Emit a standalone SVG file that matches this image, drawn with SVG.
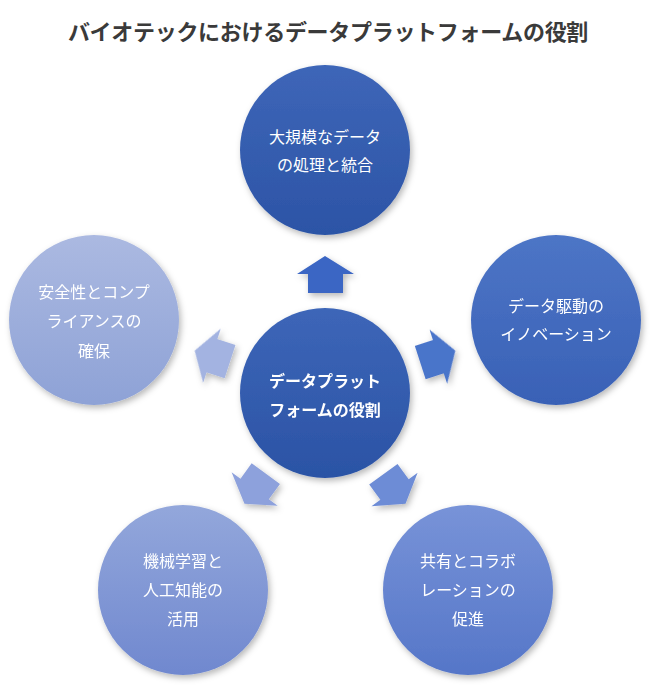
<svg xmlns="http://www.w3.org/2000/svg" width="652" height="690" viewBox="0 0 652 690">
<defs>
<style>
.title{font-family:"Noto Sans CJK JP","Noto Sans",sans-serif;font-weight:bold;font-size:22px;letter-spacing:-0.3px;fill:#3a3a3a;text-anchor:middle}
.lbl{font-family:"Noto Sans CJK JP","Noto Sans",sans-serif;font-size:16px;fill:#ffffff;text-anchor:middle}
.clbl{font-family:"Noto Sans CJK JP","Noto Sans",sans-serif;font-weight:bold;font-size:16px;fill:#ffffff;text-anchor:middle}
</style>
<filter id="sh" x="-20%" y="-20%" width="140%" height="140%">
<feDropShadow dx="2" dy="3" stdDeviation="3" flood-color="#000" flood-opacity="0.28"/>
</filter>
<linearGradient id="gC" x1="0" y1="0" x2="0" y2="1"><stop offset="0" stop-color="#3D66B8"/><stop offset="1" stop-color="#2B53A5"/></linearGradient>
<linearGradient id="gT" x1="0" y1="0" x2="0" y2="1"><stop offset="0" stop-color="#3E66B8"/><stop offset="1" stop-color="#2C54A6"/></linearGradient>
<linearGradient id="gR" x1="0" y1="0" x2="0" y2="1"><stop offset="0" stop-color="#4D75C6"/><stop offset="1" stop-color="#3961B6"/></linearGradient>
<linearGradient id="gBR" x1="0" y1="0" x2="0" y2="1"><stop offset="0" stop-color="#7893D8"/><stop offset="1" stop-color="#5576C8"/></linearGradient>
<linearGradient id="gBL" x1="0" y1="0" x2="0" y2="1"><stop offset="0" stop-color="#93A7DB"/><stop offset="1" stop-color="#7088CF"/></linearGradient>
<linearGradient id="gL" x1="0" y1="0" x2="0" y2="1"><stop offset="0" stop-color="#ABB9E1"/><stop offset="1" stop-color="#8EA2D6"/></linearGradient>
<path id="arr" d="M325,256 L354,274 L343,274 L343,293 L308,293 L308,274 L297,274 Z"/>
</defs>
<rect width="652" height="690" fill="#ffffff"/>
<text class="title" x="328" y="40">バイオテックにおけるデータプラットフォームの役割</text>
<g id="connectors" filter="url(#sh)">
<use href="#arr" fill="#3B66C4"/>
<use href="#arr" fill="#4A74CA" transform="rotate(72 325 393)"/>
<use href="#arr" fill="#6D8CD6" transform="rotate(144 325 393)"/>
<use href="#arr" fill="#8DA1DC" transform="rotate(216 325 393)"/>
<use href="#arr" fill="#A3B3E1" transform="rotate(288 325 393)"/>
</g>
<g id="center">
<circle cx="325" cy="393" r="85" fill="url(#gC)" filter="url(#sh)"/>
<text class="clbl" x="325" y="387">データプラット</text>
<text class="clbl" x="325" y="416">フォームの役割</text>
</g>
<g id="node-top">
<circle cx="325" cy="150" r="85" fill="url(#gT)" filter="url(#sh)"/>
<text class="lbl" x="325" y="143">大規模なデータ</text>
<text class="lbl" x="325" y="171">の処理と統合</text>
</g>
<g id="node-right">
<circle cx="556" cy="320" r="85" fill="url(#gR)" filter="url(#sh)"/>
<text class="lbl" x="556" y="312">データ駆動の</text>
<text class="lbl" x="556" y="340">イノベーション</text>
</g>
<g id="node-bottom-right">
<circle cx="468" cy="590" r="85" fill="url(#gBR)" filter="url(#sh)"/>
<text class="lbl" x="468" y="567">共有とコラボ</text>
<text class="lbl" x="468" y="596">レーションの</text>
<text class="lbl" x="468" y="625">促進</text>
</g>
<g id="node-bottom-left">
<circle cx="183" cy="590" r="85" fill="url(#gBL)" filter="url(#sh)"/>
<text class="lbl" x="183" y="567">機械学習と</text>
<text class="lbl" x="183" y="596">人工知能の</text>
<text class="lbl" x="183" y="625">活用</text>
</g>
<g id="node-left">
<circle cx="94" cy="320" r="85" fill="url(#gL)" filter="url(#sh)"/>
<text class="lbl" x="94" y="298">安全性とコンプ</text>
<text class="lbl" x="94" y="327">ライアンスの</text>
<text class="lbl" x="94" y="357">確保</text>
</g>
</svg>
